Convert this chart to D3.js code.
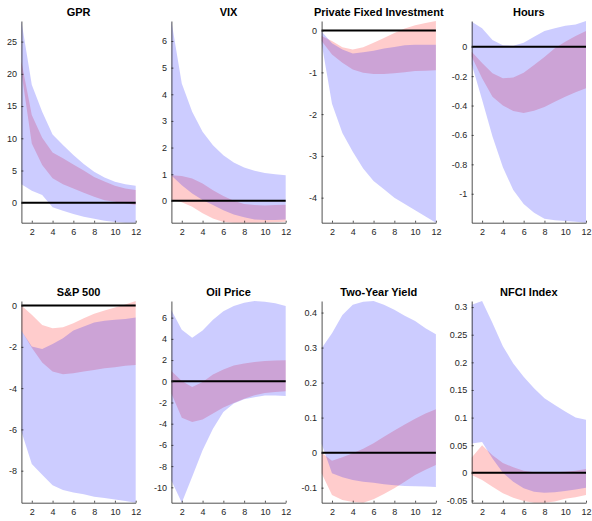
<!DOCTYPE html>
<html>
<head>
<meta charset="utf-8">
<script src="https://cdn.jsdelivr.net/npm/d3@7"></script>
<style>
  html, body { margin: 0; padding: 0; background: #fff; }
  svg { display: block; font-family: "Liberation Sans", Arial, Helvetica, sans-serif; }
</style>
</head>
<body>
<svg id="chart" width="592" height="521"></svg>
<script>
// Impulse-response bands (two models) over a 12-step horizon
const horizons = [1, 2, 3, 4, 5, 6, 7, 8, 9, 10, 11, 12];
const xTicks = [2, 4, 6, 8, 10, 12];

const titles = ["GPR", "VIX", "Private Fixed Investment", "Hours",
                "S&P 500", "Oil Price", "Two-Year Yield", "NFCI Index"];

// GPR
const gprBlueLo = [2.85, 1.86, 1.2, -0.7, -1.24, -1.76, -2.17, -2.5, -2.8, -3.0, -3.1, -3.1];
const gprBlueHi = [28.2, 18.3, 14.1, 10.6, 8.95, 7.4, 6.0, 4.8, 3.9, 3.26, 2.85, 2.64];
const gprRedLo  = [20.3, 9.2, 5.85, 3.8, 2.85, 2.2, 1.55, 0.93, 0.4, 0.15, -0.1, -0.36];
const gprRedHi  = [21.9, 13.6, 10.1, 7.8, 6.9, 5.95, 5.0, 4.0, 3.3, 2.64, 2.2, 1.97];
const gprTicks  = [0, 5, 10, 15, 20, 25];

// VIX
const vixBlueLo = [0.95, 0.59, 0.28, 0.03, -0.16, -0.35, -0.51, -0.62, -0.70, -0.72, -0.72, -0.70];
const vixBlueHi = [6.75, 4.4, 3.34, 2.59, 2.09, 1.71, 1.44, 1.25, 1.13, 1.05, 1.0, 0.96];
const vixRedLo  = [0.05, -0.05, -0.22, -0.47, -0.66, -0.79, -0.82, -0.82, -0.82, -0.81, -0.80, -0.78];
const vixRedHi  = [0.96, 0.93, 0.84, 0.65, 0.40, 0.18, 0.0, -0.12, -0.16, -0.17, -0.16, -0.15];
const vixTicks  = [0, 1, 2, 3, 4, 5, 6];

// Private fixed investment
const pfiBlueLo = [-0.30, -1.75, -2.45, -2.9, -3.3, -3.6, -3.8, -4.0, -4.15, -4.3, -4.45, -4.6];
const pfiBlueHi = [-0.02, -0.30, -0.45, -0.55, -0.52, -0.48, -0.43, -0.39, -0.35, -0.34, -0.34, -0.34];
const pfiRedLo  = [-0.25, -0.57, -0.77, -0.93, -1.01, -1.04, -1.04, -1.02, -1.00, -0.97, -0.96, -0.95];
const pfiRedHi  = [-0.13, -0.25, -0.40, -0.45, -0.40, -0.29, -0.175, -0.055, 0.048, 0.13, 0.185, 0.23];
const pfiTicks  = [-4, -3, -2, -1, 0];

// Hours
const hrsBlueLo = [-0.12, -0.36, -0.61, -0.82, -0.975, -1.07, -1.13, -1.17, -1.18, -1.185, -1.19, -1.197];
const hrsBlueHi = [0.17, 0.125, 0.045, 0.01, 0.007, 0.027, 0.068, 0.107, 0.125, 0.143, 0.152, 0.175];
const hrsRedLo  = [-0.068, -0.215, -0.34, -0.40, -0.438, -0.45, -0.435, -0.41, -0.374, -0.34, -0.31, -0.283];
const hrsRedHi  = [-0.035, -0.11, -0.18, -0.215, -0.21, -0.177, -0.125, -0.07, -0.01, 0.034, 0.073, 0.107];
const hrsTicks  = [-1, -0.8, -0.6, -0.4, -0.2, 0];

// S&P 500
const spxBlueLo = [-6.1, -7.67, -8.2, -8.7, -8.93, -9.05, -9.14, -9.26, -9.32, -9.40, -9.47, -9.55];
const spxBlueHi = [-1.22, -1.98, -2.1, -1.86, -1.58, -1.21, -1.02, -0.82, -0.74, -0.69, -0.65, -0.58];
const spxRedLo  = [-1.22, -2.05, -2.76, -3.2, -3.33, -3.28, -3.2, -3.12, -3.04, -2.99, -2.92, -2.88];
const spxRedHi  = [0.0, -0.45, -0.94, -1.10, -1.05, -0.86, -0.61, -0.40, -0.24, -0.10, 0.05, 0.22];
const spxTicks  = [-8, -6, -4, -2, 0];

// Oil price
const oilBlueLo = [-9.35, -11.45, -9.0, -6.5, -4.47, -2.9, -2.1, -1.7, -1.5, -1.35, -1.34, -1.38];
const oilBlueHi = [6.7, 4.85, 4.1, 4.8, 5.8, 6.6, 7.1, 7.4, 7.57, 7.5, 7.35, 7.1];
const oilRedLo  = [-1.16, -3.43, -3.84, -3.6, -3.05, -2.48, -2.04, -1.64, -1.32, -1.1, -1.0, -0.95];
const oilRedHi  = [0.97, 0.03, -0.53, -0.06, 0.63, 1.1, 1.48, 1.67, 1.82, 1.92, 1.95, 1.98];
const oilTicks  = [-10, -8, -6, -4, -2, 0, 2, 4, 6];

// Two-year yield
const tyBlueLo = [0.025, -0.059, -0.07, -0.078, -0.083, -0.086, -0.09, -0.093, -0.095, -0.096, -0.097, -0.098];
const tyBlueHi = [0.298, 0.341, 0.393, 0.422, 0.431, 0.433, 0.422, 0.408, 0.391, 0.376, 0.355, 0.338];
const tyRedLo  = [-0.059, -0.121, -0.135, -0.141, -0.143, -0.133, -0.118, -0.102, -0.083, -0.064, -0.049, -0.035];
const tyRedHi  = [0.0, -0.023, -0.013, -0.002, 0.011, 0.027, 0.045, 0.063, 0.08, 0.097, 0.112, 0.124];
const tyTicks  = [-0.1, 0, 0.1, 0.2, 0.3, 0.4];

// NFCI index
const nfciBlueLo = [0.053, 0.056, 0.026, 0.0, -0.016, -0.028, -0.034, -0.036, -0.035, -0.033, -0.030, -0.027];
const nfciBlueHi = [0.304, 0.311, 0.271, 0.229, 0.198, 0.174, 0.153, 0.135, 0.123, 0.111, 0.100, 0.096];
const nfciRedLo  = [-0.004, -0.013, -0.025, -0.037, -0.045, -0.051, -0.054, -0.054, -0.052, -0.047, -0.044, -0.040];
const nfciRedHi  = [0.028, 0.050, 0.032, 0.018, 0.010, 0.004, 0.001, 0.0006, 0.001, 0.002, 0.004, 0.007];
const nfciTicks  = [-0.05, 0, 0.05, 0.1, 0.15, 0.2, 0.25, 0.3];

const panels = [
  [gprBlueLo, gprBlueHi, gprRedLo, gprRedHi, gprTicks],
  [vixBlueLo, vixBlueHi, vixRedLo, vixRedHi, vixTicks],
  [pfiBlueLo, pfiBlueHi, pfiRedLo, pfiRedHi, pfiTicks],
  [hrsBlueLo, hrsBlueHi, hrsRedLo, hrsRedHi, hrsTicks],
  [spxBlueLo, spxBlueHi, spxRedLo, spxRedHi, spxTicks],
  [oilBlueLo, oilBlueHi, oilRedLo, oilRedHi, oilTicks],
  [tyBlueLo, tyBlueHi, tyRedLo, tyRedHi, tyTicks],
  [nfciBlueLo, nfciBlueHi, nfciRedLo, nfciRedHi, nfciTicks]
];

// Grid geometry
const colLeft = [21.4, 171.4, 321.6, 471.7];
const plotW = 114.3;
const rowTop = [21, 301];
const rowBottom = [222.7, 502.7];
const axisColor = "#262626";

const svg = d3.select("#chart");
const fmt = v => String(+v.toFixed(3));

panels.forEach((p, i) => {
  const [bLo, bHi, rLo, rHi, ticks] = p;
  const col = i % 4, row = Math.floor(i / 4);
  const x0 = colLeft[col], x1 = x0 + plotW;
  const y0 = rowTop[row], y1 = rowBottom[row];

  // tight limits over everything plotted, including the zero line
  const all = bLo.concat(bHi, rLo, rHi, [0]);
  const x = d3.scaleLinear().domain([1, 12]).range([x0, x1]);
  const y = d3.scaleLinear().domain(d3.extent(all)).range([y1, y0]);

  const g = svg.append("g");

  const band = (lo, hi) => d3.area()
    .x((d, k) => x(horizons[k]))
    .y0((d, k) => y(lo[k]))
    .y1((d, k) => y(hi[k]))(horizons);

  g.append("path").attr("d", band(rLo, rHi))
    .attr("fill", "#ff0000").attr("fill-opacity", 0.2);
  g.append("path").attr("d", band(bLo, bHi))
    .attr("fill", "#0000ff").attr("fill-opacity", 0.2);

  // zero reference line
  g.append("line")
    .attr("x1", x(1)).attr("x2", x(12))
    .attr("y1", y(0)).attr("y2", y(0))
    .attr("stroke", "#000").attr("stroke-width", 2);

  // axes
  const ya = g.append("g").attr("transform", `translate(${x0},0)`)
    .call(d3.axisLeft(y).tickValues(ticks).tickFormat(d => fmt(d).replace("\u2212", "-"))
      .tickSizeInner(-2).tickSizeOuter(0).tickPadding(4.5));
  const xa = g.append("g").attr("transform", `translate(0,${y1})`)
    .call(d3.axisBottom(x).tickValues(xTicks).tickFormat(d => String(d))
      .tickSizeInner(-2).tickSizeOuter(0).tickPadding(6));

  [ya, xa].forEach(a => {
    a.select(".domain").attr("stroke", axisColor).attr("stroke-width", 0.8);
    a.selectAll(".tick line").attr("stroke", axisColor).attr("stroke-width", 0.8);
    a.selectAll(".tick text").attr("fill", axisColor)
      .attr("font-size", 9).attr("font-family", "Liberation Sans, Arial, sans-serif");
  });

  // panel title
  g.append("text")
    .attr("x", (x0 + x1) / 2).attr("y", y0 - 5)
    .attr("text-anchor", "middle")
    .attr("font-size", 11).attr("font-weight", "bold")
    .attr("fill", "#000")
    .text(titles[i]);
});
</script>
</body>
</html>
